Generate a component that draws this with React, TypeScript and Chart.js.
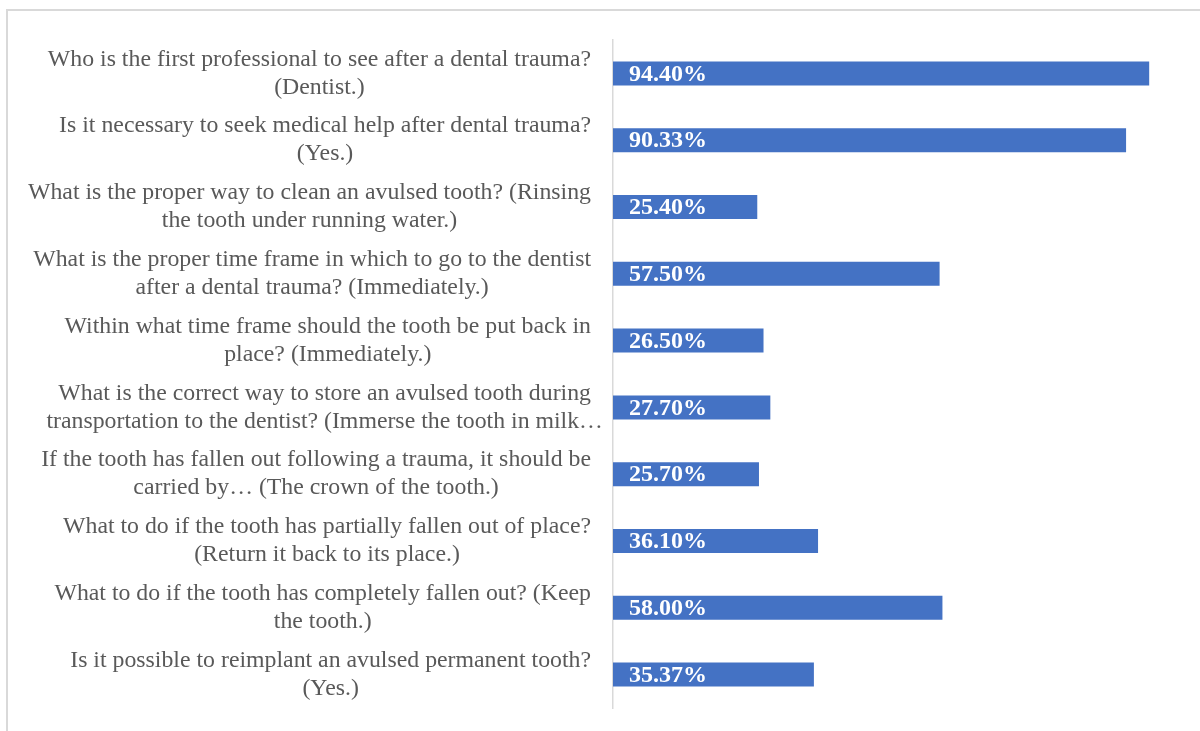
import React, { useEffect, useRef } from "react";
import { Chart, registerables } from "chart.js";

Chart.register(...registerables);

const questions: string[][] = [
  ["Who is the first professional to see after a dental trauma?", "(Dentist.)"],
  ["Is it necessary to seek medical help after dental trauma?", "(Yes.)"],
  ["What is the proper way to clean an avulsed tooth? (Rinsing", "the tooth under running water.)"],
  ["What is the proper time frame in which to go to the dentist", "after a dental trauma? (Immediately.)"],
  ["Within what time frame should the tooth be put back in", "place? (Immediately.)"],
  ["What is the correct way to store an avulsed tooth during", "transportation to the dentist? (Immerse the tooth in milk…"],
  ["If the tooth has fallen out following a trauma, it should be", "carried by… (The crown of the tooth.)"],
  ["What to do if the tooth has partially fallen out of place?", "(Return it back to its place.)"],
  ["What to do if the tooth has completely fallen out? (Keep", "the tooth.)"],
  ["Is it possible to reimplant an avulsed permanent tooth?", "(Yes.)"],
];

const percentages: number[] = [94.4, 90.33, 25.4, 57.5, 26.5, 27.7, 25.7, 36.1, 58.0, 35.37];
const valueLabels: string[] = ["94.40%", "90.33%", "25.40%", "57.50%", "26.50%", "27.70%", "25.70%", "36.10%", "58.00%", "35.37%"];

const SERIF = "'Liberation Serif', 'Times New Roman', serif";

const labelsPlugin = {
  id: "customLabels",
  afterDatasetsDraw(chart: any) {
    const ctx = chart.ctx;
    const meta = chart.getDatasetMeta(0);
    const yScale = chart.scales.y;
    ctx.save();
    // value labels inside bars
    ctx.fillStyle = "#ffffff";
    ctx.font = `bold 24px ${SERIF}`;
    ctx.textAlign = "left";
    ctx.textBaseline = "middle";
    meta.data.forEach((bar: any, i: number) => {
      ctx.fillText(valueLabels[i], bar.base + 16, bar.y + 1);
    });
    // category labels: block right-aligned, lines centered
    ctx.fillStyle = "#595959";
    ctx.font = `23.8px ${SERIF}`;
    ctx.textAlign = "center";
    const rightEdge = chart.chartArea.left - 22;
    const lineH = 28;
    questions.forEach((lines, i) => {
      const cy = yScale.getPixelForTick(i);
      let w = 0;
      const full = lines.filter((l) => !l.endsWith("…"));
      (full.length ? full : lines).forEach((l) => {
        w = Math.max(w, ctx.measureText(l).width);
      });
      const cx = rightEdge - w / 2;
      const y0 = cy - ((lines.length - 1) * lineH) / 2;
      lines.forEach((l, k) => {
        ctx.fillText(l, cx, y0 + k * lineH);
      });
    });
    ctx.restore();
  },
};

export default function App() {
  const canvasRef = useRef<HTMLCanvasElement | null>(null);

  useEffect(() => {
    if (!canvasRef.current) return;
    const chart = new Chart(canvasRef.current, {
      type: "bar",
      data: {
        labels: questions,
        datasets: [
          {
            data: percentages,
            backgroundColor: "#4472C4",
            borderWidth: 0,
            barPercentage: 0.72,
            categoryPercentage: 0.5,
          },
        ],
      },
      options: {
        indexAxis: "y",
        animation: false,
        responsive: false,
        maintainAspectRatio: false,
        layout: { padding: { top: 40, bottom: 23, right: 19, left: 0 } },
        plugins: {
          legend: { display: false },
          tooltip: { enabled: false },
        },
        scales: {
          x: {
            display: false,
            min: 0,
            max: 100,
          },
          y: {
            grid: { display: false, drawTicks: false },
            border: { display: true, color: "#d9d9d9", width: 1.5 },
            ticks: { display: false, autoSkip: false },
            afterFit(scale: any) {
              scale.width = 613;
            },
          },
        },
      },
      plugins: [labelsPlugin],
    } as any);
    return () => chart.destroy();
  }, []);

  return (
    <div
      style={{
        position: "fixed",
        left: 0,
        top: 0,
        width: 1200,
        height: 731,
        overflow: "hidden",
        background: "#ffffff",
      }}
    >
      <div
        style={{
          position: "absolute",
          left: 6,
          top: 9,
          width: 1400,
          height: 900,
          border: "2px solid #d9d9d9",
          boxSizing: "border-box",
        }}
      />
      <canvas
        ref={canvasRef}
        width={1200}
        height={731}
        style={{ position: "absolute", left: 0, top: 0, width: 1200, height: 731 }}
      />
    </div>
  );
}
